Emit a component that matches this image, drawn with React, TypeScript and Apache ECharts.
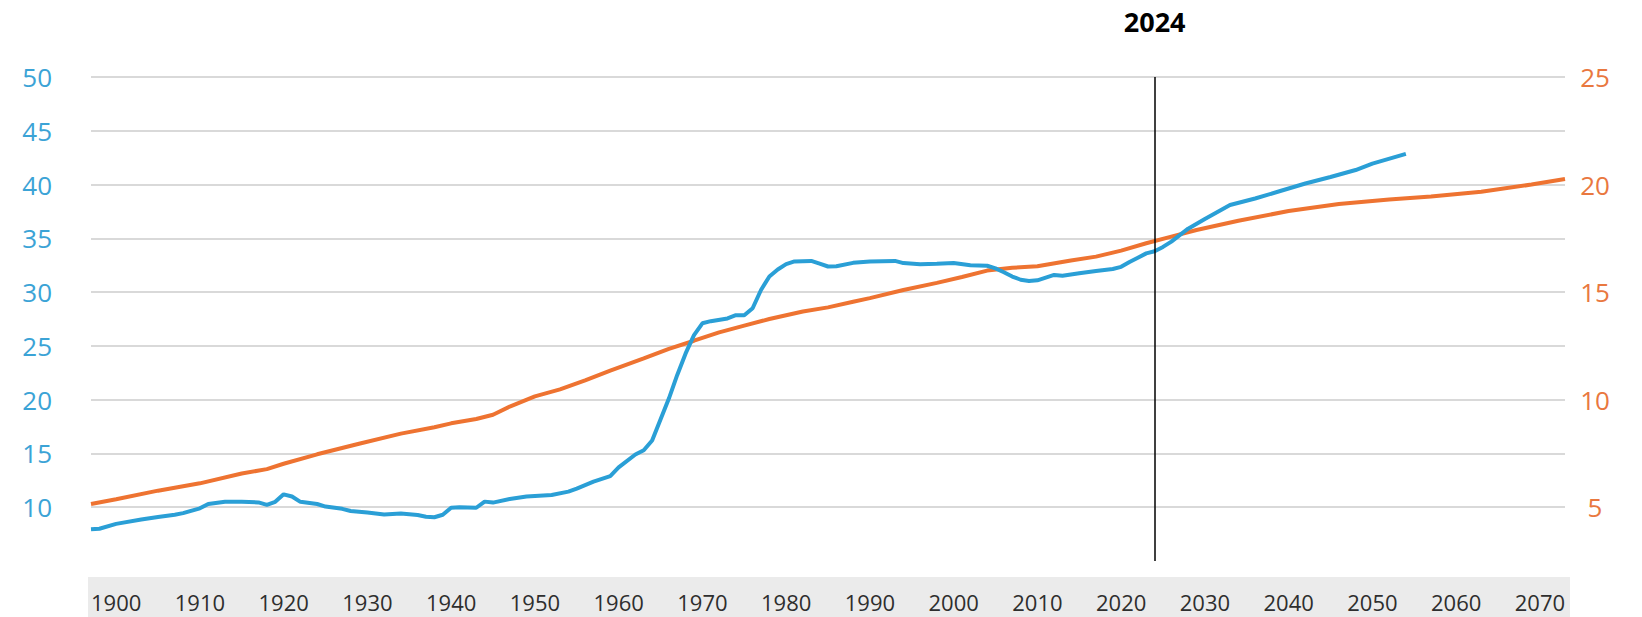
import React, { useEffect, useRef } from "react";
import * as echarts from "echarts";

const xTickYears = [1900, 1910, 1920, 1930, 1940, 1950, 1960, 1970, 1980, 1990, 2000, 2010, 2020, 2030, 2040, 2050, 2060, 2070];
const markYear = 2024;

const blueYears = [
  1897, 1898, 1900, 1903, 1905, 1907, 1908, 1910, 1911, 1913, 1915, 1917, 1918, 1919, 1920, 1921, 1922, 1924, 1925, 1927,
  1928, 1930, 1932, 1934, 1936, 1937, 1938, 1939, 1940, 1941, 1943, 1944, 1945, 1947, 1949, 1952, 1954, 1955, 1957, 1959,
  1960, 1962, 1963, 1964, 1966, 1967, 1968, 1969, 1970, 1971, 1973, 1974, 1975, 1976, 1977, 1978, 1979, 1980, 1981, 1983,
  1984, 1985, 1986, 1988, 1990, 1993, 1994, 1996, 1998, 2000, 2002, 2004, 2005, 2006, 2007, 2008, 2009, 2010, 2011, 2012,
  2013, 2015, 2017, 2019, 2020, 2021, 2022, 2023, 2024, 2025, 2026, 2028, 2030, 2033, 2036, 2039, 2042, 2045, 2048, 2050,
  2054,
];
const blueValues = [
  7.95, 8.0, 8.45, 8.85, 9.1, 9.3, 9.45, 9.9, 10.3, 10.5, 10.52, 10.45, 10.22, 10.5, 11.2, 11.0, 10.5, 10.3, 10.06, 9.85,
  9.65, 9.5, 9.32, 9.42, 9.28, 9.12, 9.07, 9.3, 9.95, 10.0, 9.95, 10.52, 10.43, 10.77, 10.99, 11.14, 11.45, 11.73, 12.38, 12.9,
  13.7, 14.9, 15.3, 16.2, 20.1, 22.3, 24.3, 26.0, 27.1, 27.3, 27.55, 27.85, 27.85, 28.5, 30.2, 31.45, 32.1, 32.6, 32.85, 32.9,
  32.65, 32.38, 32.4, 32.72, 32.85, 32.9, 32.7, 32.6, 32.63, 32.7, 32.5, 32.45, 32.2, 31.85, 31.45, 31.15, 31.03, 31.1, 31.35, 31.6,
  31.52, 31.75, 31.97, 32.15, 32.35, 32.8, 33.2, 33.6, 33.8, 34.2, 34.7, 35.9, 36.8, 38.1, 38.7, 39.4, 40.1, 40.7, 41.35, 41.95,
  42.85,
];

const orangeYears = [
  1897, 1900, 1905, 1910, 1915, 1918, 1920, 1924, 1929, 1934, 1938, 1940, 1943, 1945, 1947, 1950, 1953, 1956, 1959, 1963,
  1966, 1969, 1972, 1975, 1978, 1982, 1985, 1988, 1990, 1994, 1998, 2001, 2004, 2007, 2010, 2014, 2017, 2020, 2023, 2026,
  2029, 2034, 2040, 2046, 2052, 2057, 2063, 2069, 2073,
];
const orangeValues = [
  5.15, 5.37, 5.77, 6.11, 6.57, 6.77, 7.02, 7.46, 7.95, 8.42, 8.72, 8.9, 9.1, 9.3, 9.68, 10.15, 10.48, 10.9, 11.35, 11.92,
  12.36, 12.74, 13.13, 13.44, 13.75, 14.1, 14.29, 14.55, 14.72, 15.1, 15.43, 15.7, 16.0, 16.13, 16.2, 16.47, 16.65, 16.93, 17.27, 17.58,
  17.89, 18.32, 18.77, 19.1, 19.3, 19.44, 19.67, 20.0, 20.26,
];

const FONT = "'Open Sans', 'Noto Sans', sans-serif";

export default function App() {
  const ref = useRef<HTMLDivElement>(null);

  useEffect(() => {
    document.body.style.margin = "0";
    if (!ref.current) return;
    const chart = echarts.init(ref.current, undefined, { renderer: "svg" });

    const blueData = blueYears.map((y, i) => [y, blueValues[i]]);
    const orangeData = orangeYears.map((y, i) => [y, orangeValues[i]]);

    chart.setOption({
      animation: false,
      backgroundColor: "#ffffff",
      grid: { left: 91, right: 77, top: 77, bottom: 56, outerBoundsMode: "none" },
      graphic: [
        {
          type: "rect",
          left: 88,
          bottom: 0,
          z: -10,
          silent: true,
          shape: { width: 1482, height: 40 },
          style: { fill: "#ebebeb" },
        },
      ],
      xAxis: {
        type: "value",
        min: 1897,
        max: 2073,
        axisLine: { show: false },
        axisTick: { show: false },
        splitLine: { show: false },
        axisLabel: {
          customValues: xTickYears,
          formatter: (v: number) => String(v),
          color: "#2e2e2e",
          fontSize: 22,
          fontFamily: FONT,
          margin: 30,
        },
      },
      yAxis: [
        {
          type: "value",
          position: "left",
          min: 5,
          max: 50,
          interval: 5,
          axisLine: { show: false },
          axisTick: { show: false },
          splitLine: { show: true, showMinLine: false, lineStyle: { color: "#d9d9d9", width: 2 } },
          axisLabel: {
            formatter: (v: number) => (v === 5 ? "" : String(v)),
            color: "#3ba3d6",
            fontSize: 26,
            fontFamily: FONT,
            margin: 39,
          },
        },
        {
          type: "value",
          position: "right",
          min: 2.5,
          max: 25,
          interval: 2.5,
          axisLine: { show: false },
          axisTick: { show: false },
          splitLine: { show: false },
          axisLabel: {
            formatter: (v: number) => (Math.abs(v % 5) < 1e-9 ? String(v) : ""),
            color: "#e9783f",
            fontSize: 26,
            fontFamily: FONT,
            align: "center",
            margin: 30,
          },
        },
      ],
      series: [
        {
          name: "blue",
          type: "line",
          yAxisIndex: 0,
          data: blueData,
          showSymbol: false,
          symbol: "none",
          lineStyle: { color: "#2a9fd6", width: 4 },
          z: 3,
        },
        {
          name: "orange",
          type: "line",
          yAxisIndex: 1,
          data: orangeData,
          showSymbol: false,
          symbol: "none",
          lineStyle: { color: "#ee7331", width: 4 },
          z: 2,
          markLine: {
            silent: true,
            symbol: "none",
            animation: false,
            lineStyle: { color: "#000000", width: 1.5, type: "solid" },
            emphasis: { disabled: true },
            label: {
              show: true,
              position: "end",
              formatter: String(markYear),
              color: "#000000",
              fontSize: 27,
              fontWeight: "bold",
              fontFamily: FONT,
              distance: 42,
            },
            data: [{ xAxis: markYear }],
          },
        },
      ],
    });

    return () => chart.dispose();
  }, []);

  return <div ref={ref} style={{ width: 1642, height: 617 }} />;
}
